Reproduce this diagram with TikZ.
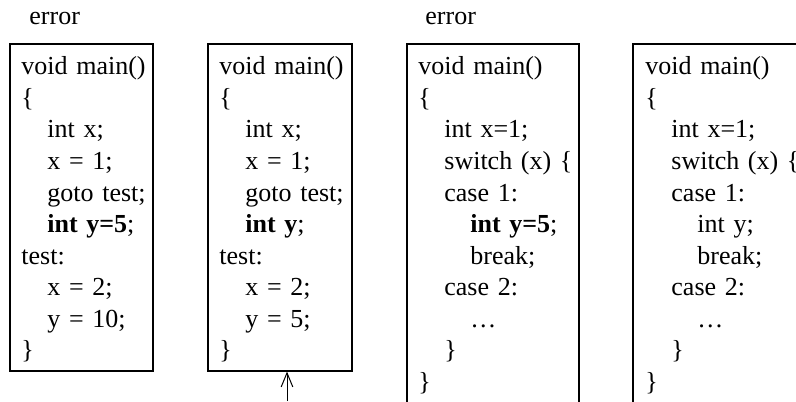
\documentclass[tikz,border=0pt]{standalone}
\usepackage{fontspec}
\setmainfont{Liberation Serif}
\usepackage{tikz}
\usetikzlibrary{arrows.meta}
\usetikzlibrary{fit}
\newcommand{\indt}{\hspace*{1em}}
\tikzstyle{codebox}=[draw,rectangle,inner sep=0pt,line width=0.6pt]
\tikzstyle{codetext}=[
        anchor=base west,
        inner sep=0pt,
        text width=80pt,
        align=left,
        font=\fontsize{13}{15.75}\selectfont
]
\tikzstyle{note}=[anchor=base west,inner sep=0pt,font=\fontsize{13}{15.75}\selectfont]
\tikzstyle{fleche}=[-{Straight Barb[length=7pt,width=5.8pt]},line width=0.5pt]

\begin{document}
\begin{tikzpicture}[x=0.5pt,y=-0.5pt]
\useasboundingbox (0,0) rectangle (796,401);
\clip (0,0) rectangle (796,401);
\node[codebox,fit={(10,44) (153,371)}] (f1) {};
\node[codebox,fit={(208,44) (352,371)}] (f2) {};
\node[codebox,fit={(407,44) (579,430)}] (f3) {};
\node[codebox,fit={(633,44) (805,430)}] (f4) {};
\node[note] (err1) at (29,25) {error};
\node[note] (err3) at (425,25) {error};
\node[codetext] (c1) at (21,75) {void main()\\
\{\\
\indt int x;\\
\indt x = 1;\\
\indt goto test;\\
\indt \textbf{int y=5};\\
test:\\
\indt x = 2;\\
\indt y = 10;\\
\}};
\node[codetext] (c2) at (219,75) {void main()\\
\{\\
\indt int x;\\
\indt x = 1;\\
\indt goto test;\\
\indt \textbf{int y};\\
test:\\
\indt x = 2;\\
\indt y = 5;\\
\}};
\node[codetext] (c3) at (418,75) {void main()\\
\{\\
\indt int x=1;\\
\indt switch (x) \{\\
\indt case 1:\\
\indt\indt \textbf{int y=5};\\
\indt\indt break;\\
\indt case 2:\\
\indt\indt …\\
\indt \}\\
\}};
\node[codetext] (c4) at (645,75) {void main()\\
\{\\
\indt int x=1;\\
\indt switch (x) \{\\
\indt case 1:\\
\indt\indt int y;\\
\indt\indt break;\\
\indt case 2:\\
\indt\indt …\\
\indt \}\\
\}};
%fleche
\coordinate (pied) at (287,401);
\draw[fleche] (pied) -- (pied |- f2.south);
\end{tikzpicture}
\end{document}
